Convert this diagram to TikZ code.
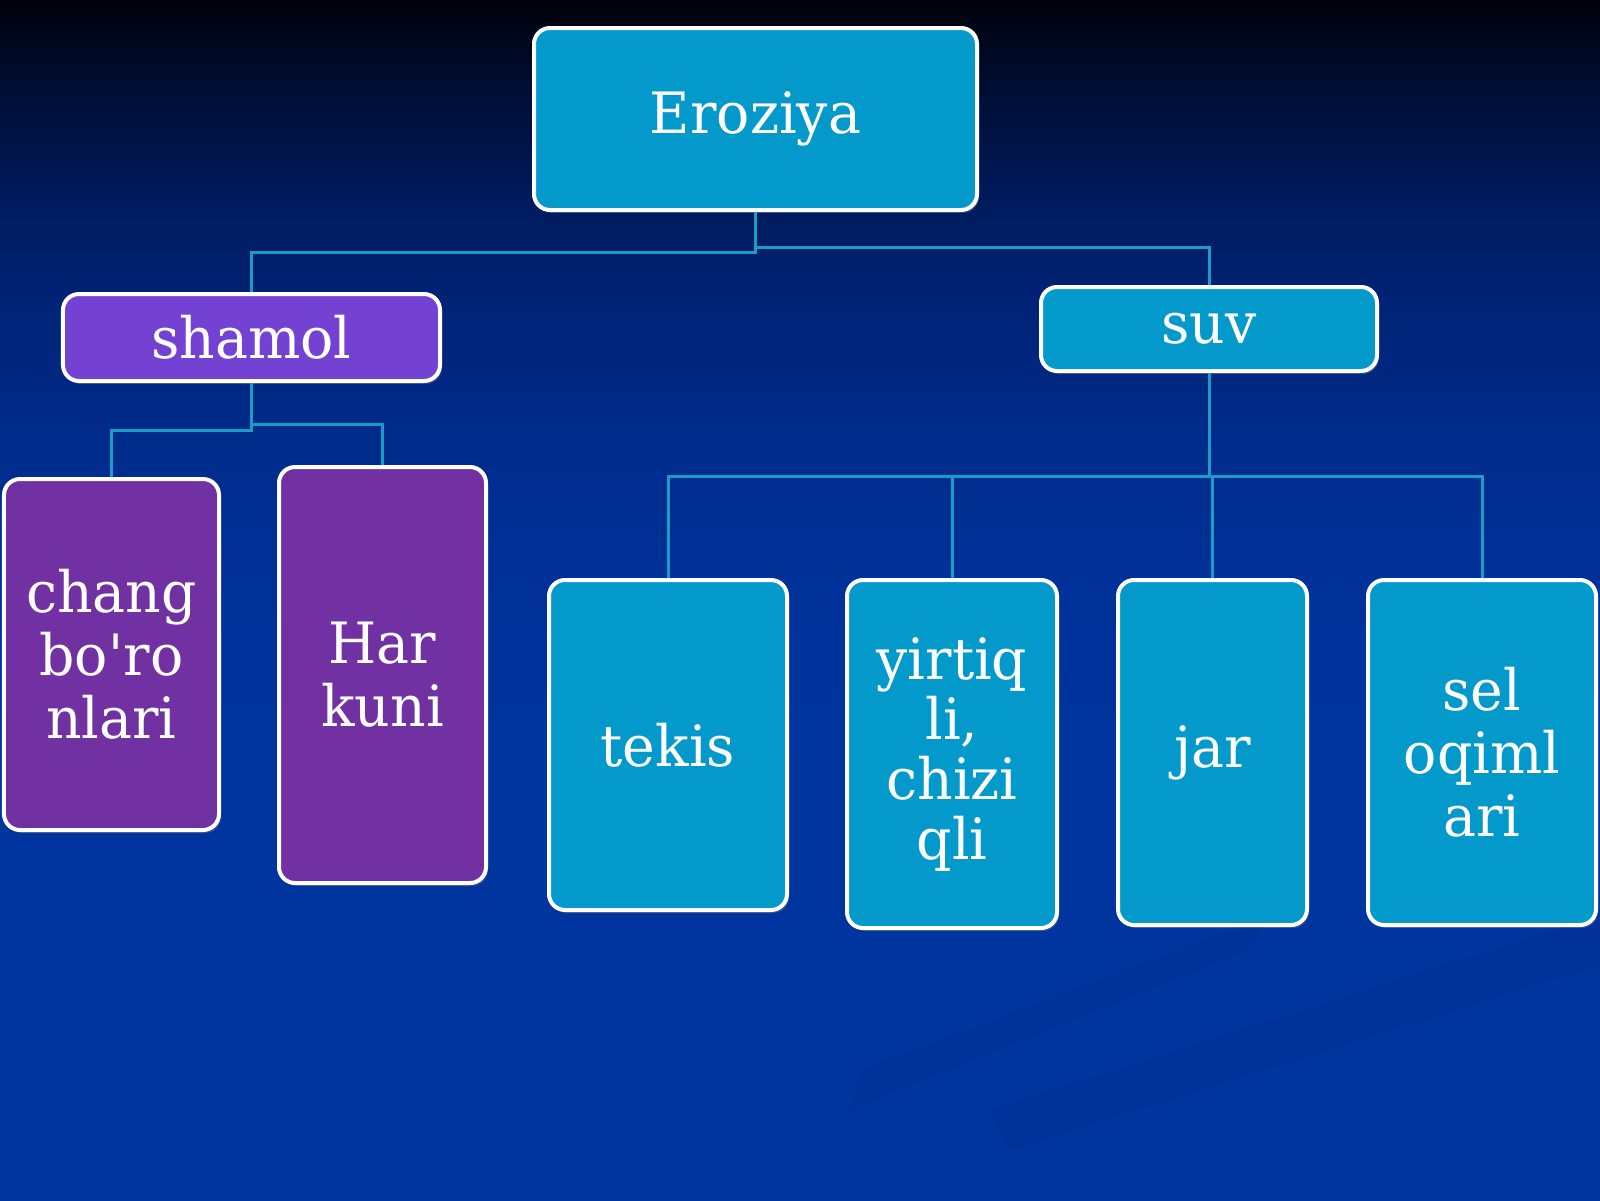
\documentclass[tikz,border=0pt]{standalone}
\usepackage{fontspec}
\setmainfont[FakeStretch=0.97]{DejaVu Serif}
\usetikzlibrary{calc,shadows}
\definecolor{cyanbox}{HTML}{0499CB}
\definecolor{violetbox}{HTML}{7442D2}
\definecolor{purplebox}{HTML}{7131A2}
\definecolor{conn}{HTML}{1A9CC9}
\definecolor{bgA}{HTML}{0035A0}
\definecolor{bgB}{HTML}{00329A}
\definecolor{bgC}{HTML}{002C8C}
\definecolor{bgD}{HTML}{002375}
\definecolor{bgE}{HTML}{001A5C}
\definecolor{bgF}{HTML}{000F38}
\definecolor{bgG}{HTML}{00020C}
\pgfdeclareverticalshading{bgshade}{100bp}{color(0bp)=(bgA); color(25bp)=(bgA); color(41.67bp)=(bgA); color(50bp)=(bgB); color(56.25bp)=(bgC); color(62.5bp)=(bgD); color(66.67bp)=(bgE); color(70.83bp)=(bgF); color(75bp)=(bgG); color(100bp)=(bgG)}
\begin{document}
\begin{tikzpicture}[x=1bp,y=-1bp,
  box/.style={draw=white, line width=4bp, rounded corners=16bp, text=white,
    align=center, inner sep=0pt,
    font=\fontsize{57bp}{63bp}\selectfont,
    drop shadow={opacity=0.35, shadow xshift=2bp, shadow yshift=-3bp}},
  cyanb/.style={box, fill=cyanbox},
  violetb/.style={box, fill=violetbox},
  purpleb/.style={box, fill=purplebox},
  link/.style={draw=conn, line width=3bp}]
\useasboundingbox (0,0) rectangle (1600,1200);
\shade[shading=bgshade] (0,0) rectangle (1600,1200);
% faint diagonal streaks
\fill[black, opacity=0.04] (1600,915) -- (1600,965) -- (1010,1150) -- (990,1110) -- cycle;
\fill[black, opacity=0.03] (1270,915) -- (1250,950) -- (850,1110) -- (860,1070) -- cycle;

% nodes
\node[cyanb, minimum width=443bp, minimum height=182bp] (ero) at (755.5,119) {Eroziya};
\node[violetb, minimum width=377bp, minimum height=87bp] (sha) at (251.5,337.5) {shamol};
\node[cyanb, minimum width=336bp, minimum height=84bp] (suv) at (1209,329) {suv};
\node[purpleb, minimum width=215bp, minimum height=351bp] (chang) at (111.5,654.5) {chang\\bo\textquotesingle ro\\nlari};
\node[purpleb, minimum width=207bp, minimum height=416bp] (har) at (382.5,675) {Har\\kuni};
\node[cyanb, minimum width=238bp, minimum height=330bp] (tekis) at (668,745) {tekis};
\node[cyanb, minimum width=210bp, minimum height=348bp, font=\fontsize{57bp}{60bp}\selectfont] (yir) at (952,754) {yirtiq\\li,\\chizi\\qli};
\node[cyanb, minimum width=189bp, minimum height=345bp] (jar) at (1212.5,752.5) {jar};
\node[cyanb, minimum width=228bp, minimum height=345bp] (sel) at (1482,752.5) {sel\\oqiml\\ari};

% connectors
\draw[link] (ero.south) -- ++(0,40) -| (sha.north);
\draw[link] (ero.south) -- ++(0,35) -| (suv.north);
\draw[link] (sha.south) -- ++(0,47) -| (chang.north);
\draw[link] (sha.south) -- ++(0,41) -| (har.north);
\draw[link] (suv.south) -- ++(0,103) -| (tekis.north);
\draw[link] (suv.south) -- ++(0,103) -| (yir.north);
\draw[link] (suv.south) -- ++(0,103) -| (jar.north);
\draw[link] (suv.south) -- ++(0,103) -| (sel.north);
\end{tikzpicture}
\end{document}
